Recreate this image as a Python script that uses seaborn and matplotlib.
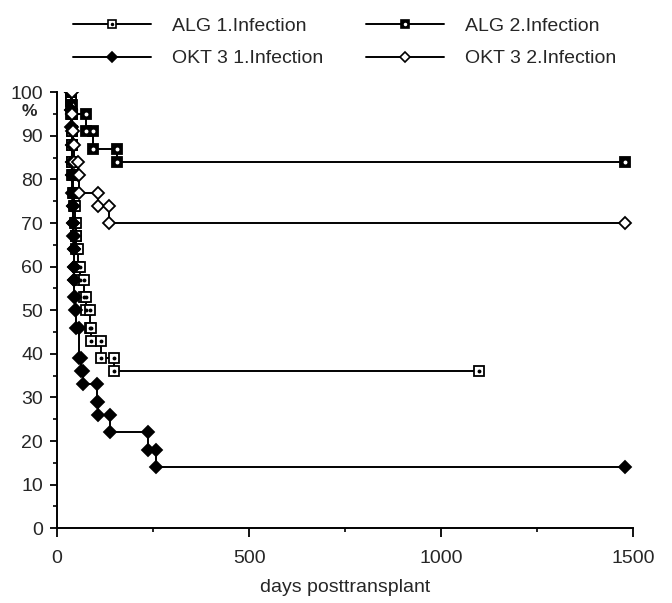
import numpy as np
import pandas as pd
import seaborn as sns
import matplotlib.pyplot as plt
from matplotlib.lines import Line2D
from matplotlib.legend_handler import HandlerTuple

# survival curves: start day, event days with level after event, end day
alg1_start, alg1_end = 35, 1100
alg1_days = [36, 37, 38, 38, 40, 40, 42, 44, 46, 48, 50, 55, 60, 70, 76, 86, 88, 115, 148]
alg1_pct = [98, 95, 91, 88, 84, 81, 77, 74, 70, 67, 64, 60, 57, 53, 50, 46, 43, 39, 36]

alg2_start, alg2_end = 35, 1478
alg2_days = [37, 38, 76, 94, 155]
alg2_pct = [97, 95, 91, 87, 84]

okt1_start, okt1_end = 35, 1478
okt1_days = [36, 37, 38, 38, 40, 40, 41, 42, 42, 43, 44, 45, 45, 46, 48, 58, 63, 68, 105, 107, 137, 238, 257]
okt1_pct = [96, 92, 88, 84, 81, 77, 74, 70, 67, 64, 60, 57, 53, 50, 46, 39, 36, 33, 29, 26, 22, 18, 14]

okt2_start, okt2_end = 35, 1478
okt2_days = [38, 40, 42, 44, 55, 58, 107, 135]
okt2_pct = [95, 91, 88, 84, 81, 77, 74, 70]

labels = ["ALG 1.Infection", "ALG 2.Infection", "OKT 3 1.Infection", "OKT 3 2.Infection"]


def km_vertices(start, days, pct, end):
    xs, ys = [start], [100]
    level = 100
    for d, p in zip(days, pct):
        xs += [d, d]
        ys += [level, p]
        level = p
    xs.append(end)
    ys.append(level)
    return pd.DataFrame({"day": xs, "pct": ys})


sns.set_style("ticks")
plt.rcParams["font.family"] = ["Liberation Sans", "DejaVu Sans"]

fig = plt.figure(figsize=(6.72, 6.03), dpi=100)
ax = fig.add_axes([0.085, 0.124, 0.857, 0.723])

ms = 7
styles = {
    "ALG 1.Infection": dict(marker="s", mfc="white", mec="black", inner="black"),
    "ALG 2.Infection": dict(marker="s", mfc="black", mec="black", inner="white"),
    "OKT 3 1.Infection": dict(marker="D", mfc="black", mec="black", inner=None),
    "OKT 3 2.Infection": dict(marker="D", mfc="white", mec="black", inner=None),
}
curves = {
    "ALG 1.Infection": km_vertices(alg1_start, alg1_days, alg1_pct, alg1_end),
    "ALG 2.Infection": km_vertices(alg2_start, alg2_days, alg2_pct, alg2_end),
    "OKT 3 1.Infection": km_vertices(okt1_start, okt1_days, okt1_pct, okt1_end),
    "OKT 3 2.Infection": km_vertices(okt2_start, okt2_days, okt2_pct, okt2_end),
}

handles = {}
for name in labels:
    st = styles[name]
    df = curves[name]
    dsize = ms * 0.85 if st["marker"] == "D" else ms
    sns.lineplot(data=df, x="day", y="pct", estimator=None, sort=False, ax=ax,
                 color="black", lw=1.4, marker=st["marker"], markersize=dsize,
                 markerfacecolor=st["mfc"], markeredgecolor=st["mec"], markeredgewidth=1.3)
    h = Line2D([], [], color="black", lw=1.4, marker=st["marker"], markersize=dsize * 0.8,
               markerfacecolor=st["mfc"], markeredgecolor=st["mec"], markeredgewidth=1.2)
    if st["inner"]:
        ax.plot(df["day"], df["pct"], ls="none", marker="o", markersize=1.8,
                color=st["inner"], mec=st["inner"])
        hi = Line2D([], [], ls="none", marker="o", markersize=1.5, color=st["inner"])
        handles[name] = (h, hi)
    else:
        handles[name] = h

ax.set_xlim(0, 1500)
ax.set_ylim(0, 100)
ax.set_xticks([0, 500, 1000, 1500])
ax.set_xticks([250, 750, 1250], minor=True)
ax.set_yticks(range(0, 101, 10))
ax.set_yticks(range(5, 100, 10), minor=True)
ax.tick_params(axis="both", which="major", labelsize=14, width=1.3, length=5, color="black")
ax.tick_params(axis="both", which="minor", width=1.2, length=3, color="black")
ax.tick_params(axis="x", which="major", length=6.5, pad=9)
ax.tick_params(axis="y", pad=5)
for s in ["left", "bottom"]:
    ax.spines[s].set_linewidth(1.4)
    ax.spines[s].set_color("black")
sns.despine(ax=ax)
ax.set_xlabel("days posttransplant", fontsize=14, labelpad=9)
ax.set_ylabel("")
ax.text(-0.049, 95.5, "%", transform=ax.get_yaxis_transform(), ha="center", va="center",
        fontsize=12.5, fontweight="bold")

# legend is filled column by column, so order for rows: ALG1 ALG2 / OKT1 OKT2
order = ["ALG 1.Infection", "OKT 3 1.Infection", "ALG 2.Infection", "OKT 3 2.Infection"]
fig.legend([handles[n] for n in order], order,
           handler_map={tuple: HandlerTuple(ndivide=1, pad=0)},
           loc="upper left", bbox_to_anchor=(0.094, 0.987), ncol=2, frameon=False,
           borderpad=0, fontsize=14, handlelength=4.0, columnspacing=2.2,
           labelspacing=0.75, handletextpad=1.1)

fig.savefig("out.png", dpi=100)
